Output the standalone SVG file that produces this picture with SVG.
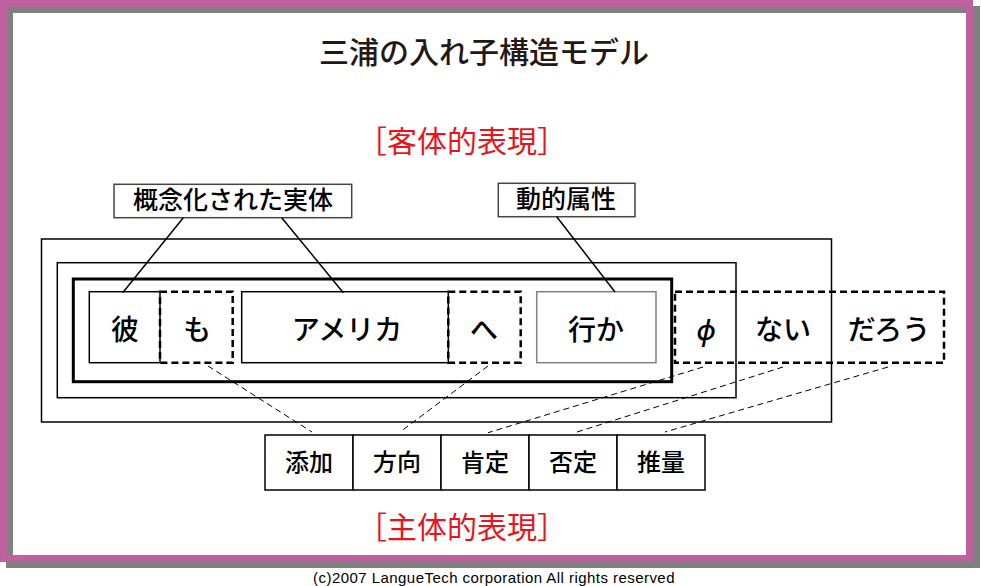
<svg xmlns="http://www.w3.org/2000/svg" width="981" height="586" viewBox="0 0 981 586">
<style>
.jp{font-family:"Noto Sans CJK JP","Noto Sans",sans-serif;text-anchor:middle;font-weight:500;}
.box{fill:#fff;stroke:#000;stroke-width:1.5;}
.dbox{fill:none;stroke:#000;stroke-width:2.5;stroke-dasharray:7 4;}
.lbl{fill:#fff;stroke:#444;stroke-width:1.5;}
.word{font-size:28px;fill:#000;}
.cell{font-size:24px;fill:#000;}
.red{font-size:30px;fill:#e8141c;font-weight:400;}
.ln{stroke:#000;stroke-width:1.5;fill:none;}
.dl{stroke:#000;stroke-width:1;stroke-dasharray:6 4;fill:none;}
</style>
<rect x="0" y="0" width="981" height="586" fill="#fff"/>
<g id="frame">
<rect x="9.5" y="9.5" width="967" height="555" fill="none" stroke="#808080" stroke-width="7"/>
<rect x="3.5" y="3.5" width="966" height="555" fill="none" stroke="#c0619f" stroke-width="7"/>
</g>
<text class="jp" x="484" y="63" font-size="30" fill="#231815">三浦の入れ子構造モデル</text>
<text class="jp red" x="462" y="152">［客体的表現］</text>
<text class="jp red" x="462" y="538">［主体的表現］</text>
<g id="nests">
<rect id="outer" class="box" x="41.5" y="239" width="790" height="183"/>
<rect id="middle" class="box" x="57.3" y="262.7" width="678.7" height="135"/>
<rect id="inner" x="73.3" y="279" width="598.4" height="102.7" fill="#fff" stroke="#000" stroke-width="3"/>
</g>
<g id="n-kare"><rect class="box" x="89.3" y="291.7" width="70.7" height="71"/><text class="jp word" x="125" y="340">彼</text></g>
<g id="n-mo"><rect class="dbox" x="160" y="291.7" width="72.7" height="71"/><text class="jp word" x="197" y="340">も</text></g>
<g id="n-america"><rect class="box" x="241.7" y="291.7" width="206.6" height="71"/><text class="jp word" x="347" y="340">アメリカ</text></g>
<g id="n-he"><rect class="dbox" x="448.3" y="291.7" width="72.4" height="71"/><text class="jp word" x="484" y="340">へ</text></g>
<g id="n-ika"><rect x="536.7" y="291.7" width="119.3" height="71" fill="#fff" stroke="#808080" stroke-width="1.5"/><text class="jp word" x="596" y="340">行か</text></g>
<g id="n-aux"><rect class="dbox" x="675" y="291.7" width="269" height="71"/>
<text class="jp word" x="706" y="340" font-style="italic">ϕ</text>
<text class="jp word" x="783" y="340">ない</text>
<text class="jp word" x="889" y="340">だろう</text></g>
<g id="l-entity"><rect class="lbl" x="114" y="184.3" width="237.7" height="33.4"/><text class="jp" x="233" y="209" font-size="25">概念化された実体</text></g>
<g id="l-attr"><rect class="lbl" x="498.3" y="183.3" width="136.7" height="33.4"/><text class="jp" x="566" y="208" font-size="25">動的属性</text></g>
<g id="table">
<g id="c1"><rect class="box" x="265" y="435" width="88" height="55"/><text class="jp cell" x="309" y="471">添加</text></g>
<g id="c2"><rect class="box" x="353" y="435" width="88" height="55"/><text class="jp cell" x="397" y="471">方向</text></g>
<g id="c3"><rect class="box" x="441" y="435" width="88" height="55"/><text class="jp cell" x="485" y="471">肯定</text></g>
<g id="c4"><rect class="box" x="529" y="435" width="88" height="55"/><text class="jp cell" x="573" y="471">否定</text></g>
<g id="c5"><rect class="box" x="617" y="435" width="88" height="55"/><text class="jp cell" x="661" y="471">推量</text></g>
</g>
<g id="connectors">
<line class="ln" x1="183.3" y1="217.7" x2="122.7" y2="292.7"/>
<line class="ln" x1="281.7" y1="217.7" x2="343.3" y2="292.7"/>
<line class="ln" x1="556.7" y1="216.7" x2="615" y2="292"/>
<line class="dl" x1="208" y1="366" x2="312" y2="432"/>
<line class="dl" x1="488" y1="366" x2="400" y2="432"/>
<line class="dl" x1="703" y1="367" x2="488" y2="432.7"/>
<line class="dl" x1="783" y1="367" x2="577" y2="432"/>
<line class="dl" x1="888" y1="367" x2="665" y2="432"/>
</g>
<text x="494" y="582.5" font-family="Liberation Sans, Arial, sans-serif" font-size="15" letter-spacing="0.45" text-anchor="middle" fill="#000">(c)2007 LangueTech corporation All rights reserved</text>
</svg>
